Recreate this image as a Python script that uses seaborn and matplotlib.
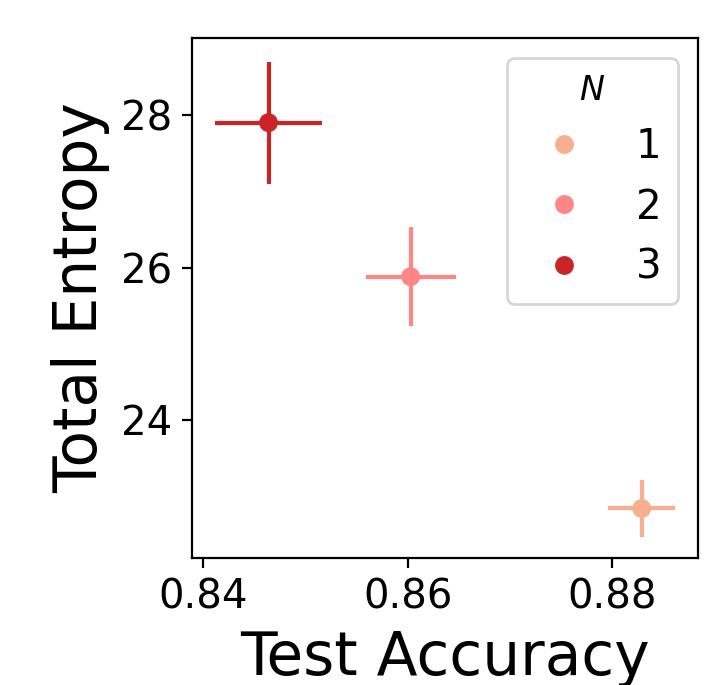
import pandas as pd
import seaborn as sns
import matplotlib.pyplot as plt

# values
n_values = [1, 2, 3]
test_acc = [0.8829, 0.8603, 0.8464]
acc_err = [0.0033, 0.0044, 0.0052]
entropy = [22.84, 25.88, 27.90]
entropy_err = [0.37, 0.65, 0.80]
colors = ["#f9ae8f", "#ff8684", "#cb2427"]

df = pd.DataFrame({"N": n_values, "acc": test_acc, "acc_err": acc_err,
                   "entropy": entropy, "entropy_err": entropy_err})
palette = dict(zip(n_values, colors))

fig = plt.figure(figsize=(3.62, 3.425), dpi=200)
ax = fig.add_axes([0.265, 0.1854, 0.699, 0.7591])

# error bars first, markers on top
for _, row in df.iterrows():
    ax.errorbar(row["acc"], row["entropy"], xerr=row["acc_err"], yerr=row["entropy_err"],
                fmt="none", ecolor=palette[int(row["N"])], elinewidth=1.5, capsize=0, zorder=2)

sns.scatterplot(data=df, x="acc", y="entropy", hue="N", palette=palette,
                s=46, edgecolor="none", zorder=3, ax=ax)

ax.set_xlim(0.8389, 0.8884)
ax.set_ylim(22.19, 29.01)
ax.set_xticks([0.84, 0.86, 0.88])
ax.set_yticks([24, 26, 28])
ax.tick_params(labelsize=14.5)
ax.set_xlabel("Test Accuracy", fontsize=21.5)
ax.set_ylabel("Total Entropy", fontsize=21.5)

ax.legend(title="$N$", fontsize=14.5, title_fontsize=12, loc="upper right")

fig.savefig("out.png", dpi=200)
